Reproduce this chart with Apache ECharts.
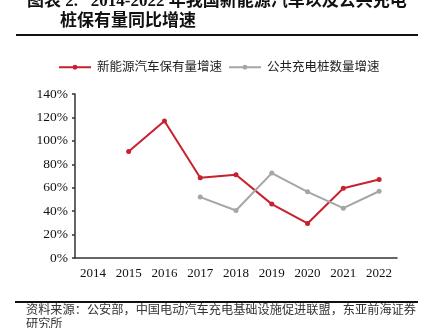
<!DOCTYPE html>
<html>
<head>
<meta charset="utf-8">
<script src="https://cdn.jsdelivr.net/npm/echarts@6/dist/echarts.min.js"></script>
<style>
  html, body { margin: 0; padding: 0; background: #fff; }
  #chart { width: 431px; height: 328px; }
</style>
</head>
<body>
<div id="chart"></div>
<script>
// Year-over-year growth of NEV stock and public charging piles, 2014-2022 (%)
const years = ['2014', '2015', '2016', '2017', '2018', '2019', '2020', '2021', '2022'];
const nevGrowth = [null, 91, 117, 68.5, 71, 46, 29.5, 59.5, 67];
const pileGrowth = [null, null, null, 52, 40.5, 72.5, 56.5, 42.5, 57];
const seriesNames = ['新能源汽车保有量增速', '公共充电桩数量增速'];
const titleLines = ['图表 2.   2014-2022 年我国新能源汽车以及公共充电', '桩保有量同比增速'];
const sourceLines = ['资料来源：公安部，中国电动汽车充电基础设施促进联盟，东亚前海证券', '研究所'];

const serif = '"Liberation Serif", "Noto Sans CJK SC", serif';
const cjk = '"Liberation Serif", "Noto Sans CJK SC", sans-serif';

const chart = echarts.init(document.getElementById('chart'), null, { renderer: 'canvas' });

chart.setOption({
  backgroundColor: '#ffffff',
  animation: false,
  grid: { left: 75, right: 34, top: 94, bottom: 70, containLabel: false },
  legend: {
    left: 58,
    top: 61,
    padding: 0,
    itemWidth: 32,
    itemHeight: 6,
    itemGap: 6,
    textStyle: { fontFamily: cjk, fontSize: 12.5, color: '#222', padding: [0, 0, 0, 1] },
    data: seriesNames
  },
  xAxis: {
    type: 'category',
    data: years,
    boundaryGap: true,
    axisLine: { show: true, lineStyle: { color: '#333', width: 1.5 } },
    axisTick: { show: false },
    axisLabel: { fontFamily: serif, fontSize: 13, color: '#111', margin: 9 }
  },
  yAxis: {
    type: 'value',
    min: 0,
    max: 140,
    interval: 20,
    splitLine: { show: false },
    axisLine: { show: true, lineStyle: { color: '#333', width: 1.5 } },
    axisTick: { show: true, length: 3, lineStyle: { color: '#333', width: 1.5 } },
    axisLabel: { formatter: '{value}%', fontFamily: serif, fontSize: 13.5, color: '#111', margin: 7 }
  },
  series: [
    {
      name: seriesNames[0],
      type: 'line',
      data: nevGrowth,
      connectNulls: false,
      symbol: 'circle',
      symbolSize: 5,
      itemStyle: { color: '#C8202F' },
      lineStyle: { color: '#C8202F', width: 2 }
    },
    {
      name: seriesNames[1],
      type: 'line',
      data: pileGrowth,
      connectNulls: false,
      symbol: 'circle',
      symbolSize: 5,
      itemStyle: { color: '#A6A6A6' },
      lineStyle: { color: '#A6A6A6', width: 2 }
    }
  ],
  graphic: [
    {
      type: 'text', left: 27, top: -7,
      style: { text: titleLines[0], font: 'bold 17px ' + cjk, fill: '#111' }
    },
    {
      type: 'text', left: 60, top: 13,
      style: { text: titleLines[1], font: 'bold 17px ' + cjk, fill: '#111' }
    },
    {
      type: 'line',
      shape: { x1: 16, y1: 35, x2: 418, y2: 35 },
      style: { stroke: '#111', lineWidth: 2 }
    },
    {
      type: 'line',
      shape: { x1: 15, y1: 302, x2: 418, y2: 302 },
      style: { stroke: '#111', lineWidth: 2 }
    },
    {
      type: 'text', left: 26, top: 305,
      style: { text: sourceLines[0], font: '12.2px ' + cjk, fill: '#333' }
    },
    {
      type: 'text', left: 26, top: 319,
      style: { text: sourceLines[1], font: '12.2px ' + cjk, fill: '#333' }
    }
  ]
});
</script>
</body>
</html>
